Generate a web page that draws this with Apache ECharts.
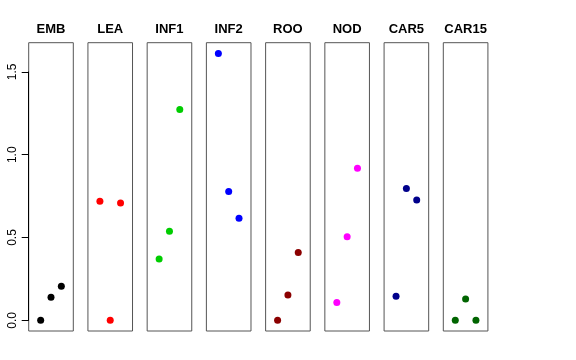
<!DOCTYPE html>
<html><head><meta charset="utf-8">
<script src="https://cdn.jsdelivr.net/npm/echarts@6/dist/echarts.min.js"></script>
<style>html,body{margin:0;padding:0;background:#fff}#c{width:576px;height:360px}</style>
</head><body><div id="c"></div>
<script>
const categories = ['EMB','LEA','INF1','INF2','ROO','NOD','CAR5','CAR15'];
const EMB   = [0.000, 0.139, 0.206];
const LEA   = [0.719, 0.000, 0.709];
const INF1  = [0.371, 0.538, 1.273];
const INF2  = [1.612, 0.778, 0.617];
const ROO   = [0.000, 0.153, 0.409];
const NOD   = [0.107, 0.504, 0.919];
const CAR5  = [0.145, 0.796, 0.726];
const CAR15 = [0.000, 0.129, 0.000];
const positions = [1, 2, 3];
const yTicks = [0, 0.5, 1.0, 1.5];
const seriesValues = [EMB, LEA, INF1, INF2, ROO, NOD, CAR5, CAR15];
const colors = ['#000000','#FF0000','#00CD00','#0000FF','#8B0000','#FF00FF','#00008B','#006400'];

const FONT = '"Liberation Sans", Arial, Helvetica, sans-serif';
const L0 = 28.7, STEP = 59.23, W = 44.6, TOP = 42.7, H = 288.3;
const YMIN = -0.0645, YMAX = 1.6765;

const grid = [], xAxis = [], yAxis = [], series = [], title = [];
categories.forEach((cat, i) => {
  const left = L0 + i * STEP;
  grid.push({left: left, top: TOP, width: W, height: H, show: true, borderColor: '#555', borderWidth: 1, backgroundColor: 'transparent'});
  xAxis.push({type: 'value', gridIndex: i, min: -0.16, max: 4.16, show: false});
  yAxis.push({type: 'value', gridIndex: i, min: YMIN, max: YMAX, show: false});
  series.push({
    type: 'scatter', xAxisIndex: i, yAxisIndex: i, symbol: 'circle', symbolSize: 7,
    itemStyle: {color: colors[i], opacity: 1}, silent: true,
    data: seriesValues[i].map((v, k) => [positions[k], v])
  });
  title.push({text: cat, left: left + W / 2, top: 23, textAlign: 'center', padding: 0,
    textStyle: {fontFamily: FONT, fontSize: 13, fontWeight: 'bold', color: '#000'}});
});
// axis grid for the left tick axis (0 .. 1.5)
const pxPerUnit = H / (YMAX - YMIN);
const axTop = TOP + (YMAX - yTicks[yTicks.length - 1]) * pxPerUnit;
const axH = (yTicks[yTicks.length - 1] - yTicks[0]) * pxPerUnit;
grid.push({left: L0, top: axTop, width: W, height: axH, show: false});
const gi = categories.length;
xAxis.push({type: 'value', gridIndex: gi, min: 0, max: 1, show: false});
yAxis.push({type: 'value', gridIndex: gi, min: yTicks[0], max: yTicks[yTicks.length - 1], interval: 0.5,
  axisLine: {show: true, lineStyle: {color: '#000', width: 1}},
  axisTick: {show: true, inside: false, length: 7, lineStyle: {color: '#000'}},
  splitLine: {show: false},
  axisLabel: {show: true, rotate: 90, margin: 10, fontFamily: FONT, fontSize: 12, color: '#000',
    formatter: v => v.toFixed(1)}
});

const chart = echarts.init(document.getElementById('c'), null, {renderer: 'canvas'});
chart.setOption({animation: false, backgroundColor: '#fff', title, grid, xAxis, yAxis, series});
</script></body></html>
